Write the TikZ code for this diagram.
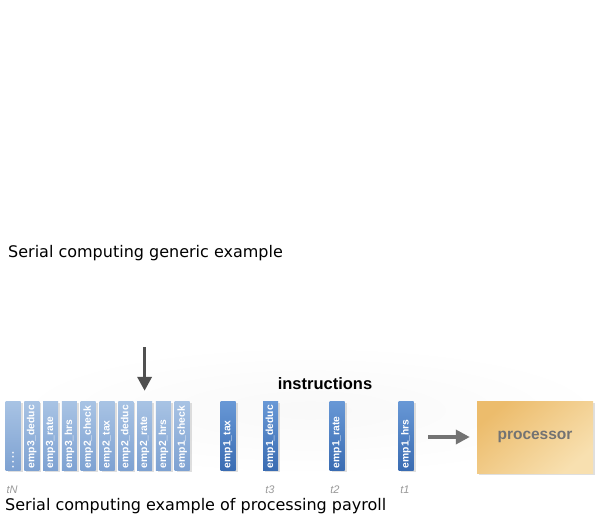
\documentclass[tikz,border=0pt]{standalone}
\usepackage{fontspec}
\setmainfont{DejaVu Sans}
\newfontfamily\labfont{Liberation Sans}
\usetikzlibrary{arrows.meta}
\usetikzlibrary{shadows}

\definecolor{instlightA}{RGB}{168,195,228}
\definecolor{instlightB}{RGB}{126,162,210}
\definecolor{instdarkA}{RGB}{104,152,214}
\definecolor{instdarkB}{RGB}{58,108,178}
\definecolor{procA}{RGB}{236,188,108}
\definecolor{procB}{RGB}{248,224,176}
\definecolor{arrowgray}{RGB}{80,80,80}

\tikzset{
    instr/.style={rotate=90, minimum width=69pt, minimum height=15pt, inner sep=2pt,
        text width=65pt, align=left, text=white,
        font=\labfont\bfseries\fontsize{10.3}{11}\selectfont,
        drop shadow={shadow xshift=2pt, shadow yshift=-2pt, opacity=.25}},
    instlight/.style={instr, top color=instlightA, bottom color=instlightB},
    instdark/.style={instr, top color=instdarkA, bottom color=instdarkB},
    tick/.style={text=gray!80, font=\labfont\itshape\fontsize{11}{12}\selectfont},
    feed/.style={arrowgray, line width=3.5pt, line cap=butt,
        -{Triangle[width=14pt, length=14pt]}},
}

\begin{document}
\begin{tikzpicture}[x=1pt, y=-1pt, line cap=round]
    % serielle Verarbeitung
    \useasboundingbox (0,0) rectangle (605,515);
    \def\ymid{435.5}
    \def\dx{18.8}

    \shade[inner color=gray!5, outer color=white] (310,410) ellipse (300 and 66);

    \node[anchor=base west, inner sep=0pt, font=\fontsize{16}{18}\selectfont] (cap1) at (8,257) {Serial computing generic example};

    \foreach \lbl [count=\i from 0] in {{.\,.\,.\,.}, emp3\_deduc, emp3\_rate, emp3\_hrs, emp2\_check,
        emp2\_tax, emp2\_deduc, emp2\_rate, emp2\_hrs, emp1\_check}{
        \node[instlight] (l\i) at ({13+\i*\dx}, \ymid) {\lbl};
    };

    \node[instdark] (tax) at (228, \ymid) {emp1\_tax};
    \node[instdark] (deduc) at (270.5, \ymid) {emp1\_deduc};
    \node[instdark] (rate) at (337, \ymid) {emp1\_rate};
    \node[instdark] (hrs) at (406, \ymid) {emp1\_hrs};

    \node[font=\labfont\bfseries\fontsize{16.5}{18}\selectfont] (inst) at (325,384) {instructions};

    \node[minimum width=116pt, minimum height=72pt,
        top color=procA, bottom color=procB, shading angle=40,
        drop shadow={shadow xshift=2pt, shadow yshift=-2pt, opacity=.25},
        text=gray!90!black, font=\labfont\bfseries\fontsize{15.5}{18}\selectfont] (proc) at (535,437) {processor};

    \coordinate (in) at ({13+7*\dx},347);
    \coordinate (out) at (428,437);
    \draw[feed] (in) -- ([yshift=10pt]l7.east);
    \draw[feed, arrowgray!80] (out) -- ([xshift=-7pt]proc.west);

    \node[tick] (tN) at (12,490) {tN};
    \node[tick] (t3) at (270,490) {t3};
    \node[tick] (t2) at (335,490) {t2};
    \node[tick] (t1) at (405,490) {t1};

    \node[anchor=base west, inner sep=0pt, font=\fontsize{16}{18}\selectfont] (cap2) at (5,510) {Serial computing example of processing payroll};
\end{tikzpicture}
\end{document}
